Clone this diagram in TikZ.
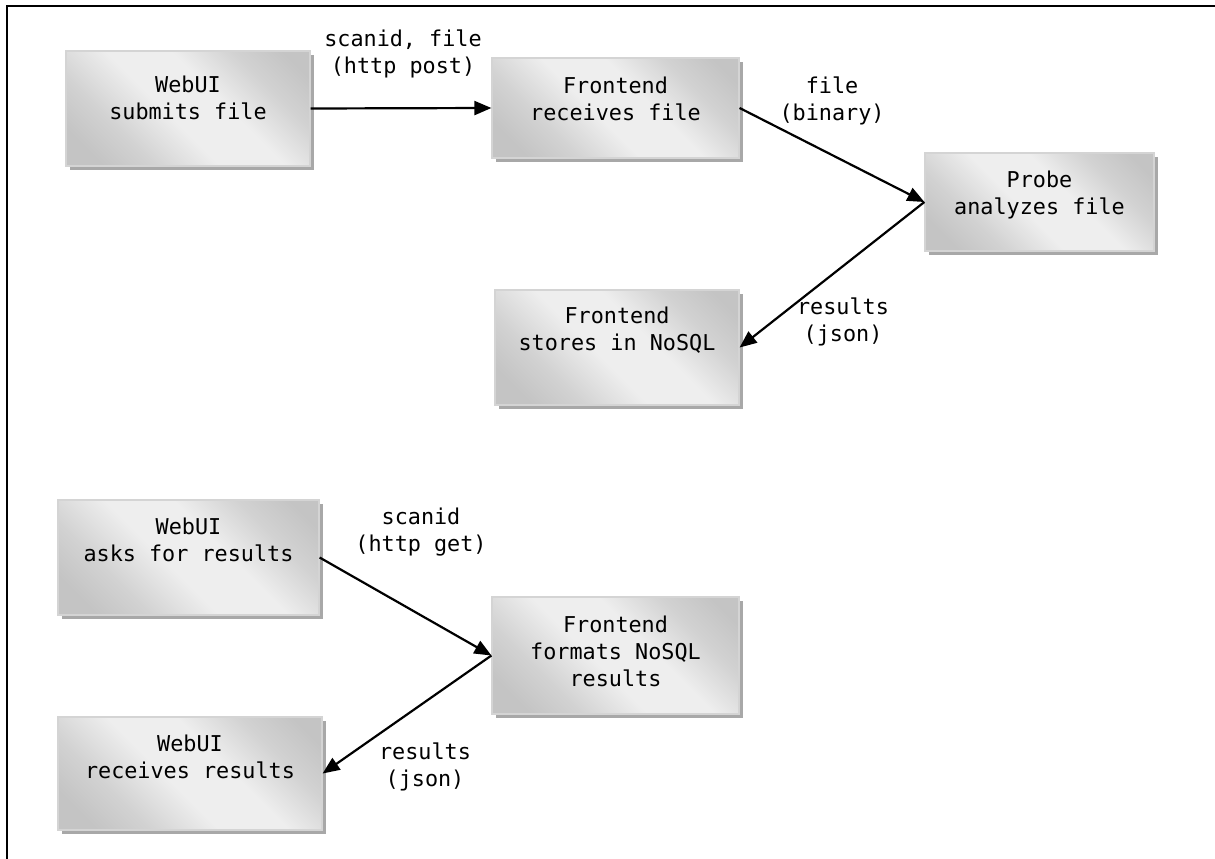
\documentclass[tikz,border=0pt]{standalone}
\usepackage{fontspec}
\newfontfamily\boxfont{DejaVu Sans Mono}
\usetikzlibrary{arrows.meta,shadows}
\definecolor{shdark}{HTML}{C4C4C4}
\definecolor{shmid}{HTML}{D2D2D2}
\definecolor{shlight}{HTML}{EEEEEE}
\definecolor{shadowgray}{HTML}{A8A8A8}
\definecolor{boxline}{HTML}{D4D4D4}
\pgfdeclarehorizontalshading{boxshade}{100bp}{color(0bp)=(shdark); color(22bp)=(shdark); color(32bp)=(shmid); color(45bp)=(shlight); color(58bp)=(shlight); color(70bp)=(shmid); color(80bp)=(shdark); color(100bp)=(shdark)}
\tikzset{
  txt/.style={font=\boxfont\fontsize{21.8}{27}\selectfont, align=center, inner sep=0pt},
  stepbox/.style={txt, draw=boxline, line width=1.2pt, shading=boxshade, shading angle=45,
    drop shadow={shadow xshift=4pt, shadow yshift=-4pt, fill=shadowgray, opacity=1},
    text depth=#1},
  lbl/.style={txt},
  conn/.style={draw, line width=2.2pt, -{Triangle[length=17pt,width=14pt]}},
  frameline/.style={line width=2pt}
}
\begin{document}
\begin{tikzpicture}[x=1pt,y=-1pt]
\useasboundingbox (0,0) rectangle (1215,859);
\draw[frameline] (7,859) -- (7,6) -- (1215,6);

\node[stepbox=22, minimum width=244, minimum height=115] (b1) at (188,108.5) {WebUI\\submits file};
\node[stepbox=18, minimum width=247, minimum height=100] (b2) at (615.5,108) {Frontend\\receives file};
\node[stepbox=19, minimum width=229, minimum height=98] (b3) at (1039.5,202) {Probe\\analyzes file};
\node[stepbox=37, minimum width=244, minimum height=115] (b4) at (617,347.5) {Frontend\\stores in NoSQL};
\node[stepbox=35, minimum width=261, minimum height=115] (b5) at (188.5,557.5) {WebUI\\asks for results};
\node[stepbox=8, minimum width=247, minimum height=117] (b6) at (615.5,655.5) {Frontend\\formats NoSQL\\results};
\node[stepbox=33, minimum width=264, minimum height=113] (b7) at (190,773.5) {WebUI\\receives results};

\draw[conn] (b1.east) -- (b2.west);
\draw[conn] (b2.east) -- (b3.west);
\draw[conn] (b3.west) -- (b4.east);
\draw[conn] (b5.east) -- (b6.west);
\draw[conn] (b6.west) -- (b7.east);

\node[lbl] (l1) at (403,54) {scanid, file\\(http post)};
\node[lbl] (l2) at (832,101) {file\\(binary)};
\node[lbl] (l3) at (843,322) {results\\(json)};
\node[lbl] (l4) at (421,532) {scanid\\(http get)};
\node[lbl] (l5) at (425,767) {results\\(json)};
\end{tikzpicture}
\end{document}
